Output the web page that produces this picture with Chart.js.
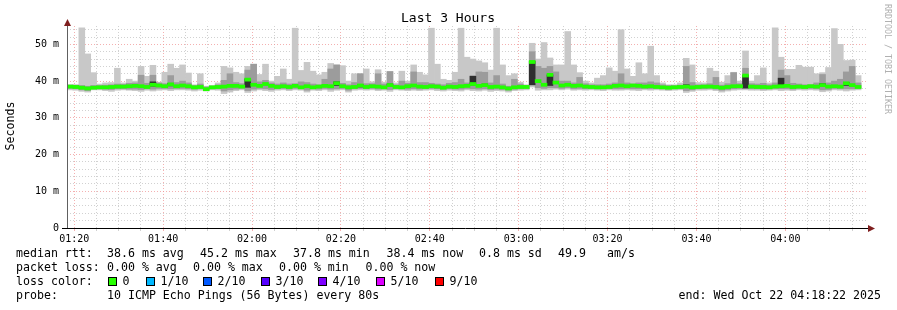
<!DOCTYPE html>
<html>
<head>
<meta charset="utf-8">
<script src="https://cdn.jsdelivr.net/npm/chart.js@4.4.0/dist/chart.umd.min.js"></script>
<style>
  html, body { margin: 0; padding: 0; background: #fff; }
</style>
</head>
<body>
<canvas id="smoke" width="897" height="310"></canvas>
<script>
// one rrd step = 80 s, graph spans the last 3 hours (01:18:22 - 04:18:22)
const stepMin = 80 / 60;
const spanMin = 180;
const firstTickMin = 1 + 38 / 60; // 01:18:22 -> 01:20:00

const timeLabels = ['01:20', '01:40', '02:00', '02:20', '02:40', '03:00', '03:20', '03:40', '04:00'];
const yTickLabels = ['0', '10 m', '20 m', '30 m', '40 m', '50 m'];

// ping rtt per step in ms (smoke = sorted pings, lightest band = min..max)
const rttMin = [
  37.6, 37.5, 37.2, 37.0, 37.6, 37.6, 37.4, 37.2, 37.5, 37.6,
  37.5, 37.4, 37.2, 37.5, 37.3, 37.5, 37.6, 37.4, 37.6, 37.6,
  37.5, 37.3, 37.5, 37.3, 37.6, 37.5, 36.6, 37.0, 37.4, 37.6,
  36.9, 37.3, 37.6, 37.4, 37.2, 37.5, 37.6, 37.4, 37.6, 37.5,
  37.0, 37.5, 37.4, 37.6, 37.2, 37.5, 37.6, 37.0, 37.5, 37.6,
  37.5, 37.6, 37.4, 37.5, 37.2, 37.6, 37.5, 37.4, 37.5, 37.4,
  37.5, 37.6, 37.4, 37.3, 37.5, 37.4, 37.3, 37.6, 37.4, 37.3,
  37.5, 37.2, 37.4, 37.3, 37.0, 37.4, 37.5, 37.6, 38.4, 37.5,
  37.6, 37.6, 37.8, 37.6, 37.8, 37.5, 37.6, 37.5, 37.6, 37.5,
  37.4, 37.6, 37.5, 37.5, 37.6, 37.5, 37.4, 37.6, 37.5, 37.6,
  37.5, 37.4, 37.5, 37.6, 36.9, 37.2, 37.5, 37.5, 37.6, 37.4,
  37.0, 37.3, 37.5, 37.6, 37.6, 37.5, 37.5, 37.4, 37.5, 37.6,
  37.4, 37.5, 37.4, 37.6, 37.5, 37.6, 37.5, 37.1, 37.3, 37.6,
  37.5, 37.3, 37.5, 37.6, null
];
const rttLo2 = [
  38.0, 37.9, 37.6, 37.4, 37.9, 37.9, 37.8, 37.7, 37.9, 37.9,
  37.8, 37.8, 37.7, 37.9, 37.8, 38.0, 38.0, 37.9, 38.0, 38.0,
  37.9, 37.8, 37.9, 37.7, 37.9, 37.9, 37.3, 37.6, 37.8, 38.0,
  37.4, 37.8, 38.0, 37.9, 37.7, 37.9, 38.0, 37.8, 38.0, 37.9,
  37.5, 37.9, 37.8, 38.0, 37.8, 37.9, 38.0, 37.5, 37.9, 38.0,
  37.9, 38.0, 37.8, 37.9, 37.7, 38.0, 37.9, 37.8, 37.9, 37.8,
  37.9, 38.0, 37.9, 37.8, 37.9, 37.8, 37.8, 38.0, 37.9, 37.8,
  37.9, 37.7, 37.8, 37.7, 37.5, 37.8, 37.9, 38.0, 38.9, 38.2,
  38.0, 38.2, 38.2, 38.0, 38.2, 37.9, 38.0, 37.9, 38.0, 37.9,
  37.9, 38.0, 37.9, 37.9, 38.0, 37.9, 37.9, 38.0, 37.9, 38.0,
  37.9, 37.8, 37.9, 37.9, 37.4, 37.6, 37.9, 37.9, 38.0, 37.8,
  37.5, 37.7, 37.9, 38.0, 38.0, 37.9, 37.9, 37.8, 37.9, 38.0,
  37.9, 37.9, 37.8, 38.0, 37.9, 38.0, 37.9, 37.6, 37.7, 38.0,
  37.9, 37.9, 37.9, 38.0, null
];
const rttMedian = [
  38.5, 38.4, 38.2, 38.0, 38.2, 38.3, 38.3, 38.4, 38.5, 38.5,
  38.6, 38.7, 38.6, 38.4, 39.0, 38.8, 38.6, 39.1, 38.6, 38.8,
  38.6, 38.3, 38.4, 37.8, 38.3, 38.4, 38.5, 38.7, 38.7, 38.5,
  40.4, 39.0, 38.7, 39.2, 38.7, 38.4, 38.6, 38.4, 38.7, 38.3,
  38.6, 38.3, 38.5, 38.7, 38.6, 39.4, 38.6, 38.3, 38.4, 38.8,
  38.4, 38.6, 38.5, 38.3, 38.9, 38.4, 38.3, 38.6, 38.8, 38.5,
  38.4, 38.6, 38.5, 38.2, 38.5, 38.4, 38.6, 38.7, 39.2, 38.7,
  38.9, 38.4, 38.5, 38.3, 38.0, 38.3, 38.4, 38.4, 45.2, 40.0,
  39.0, 41.7, 39.6, 38.8, 39.0, 38.7, 38.8, 38.5, 38.4, 38.3,
  38.3, 38.4, 38.7, 38.8, 38.6, 38.8, 38.7, 38.5, 38.6, 38.4,
  38.3, 38.2, 38.3, 38.4, 38.5, 38.3, 38.4, 38.5, 38.5, 38.4,
  38.2, 38.4, 38.6, 38.6, 41.5, 38.5, 38.4, 38.4, 38.3, 38.5,
  38.6, 38.7, 38.4, 38.5, 38.4, 38.6, 38.5, 38.9, 38.5, 38.6,
  38.5, 39.4, 38.9, 38.4, null
];
const rttHi2 = [
  38.9, 38.9, 38.8, 38.6, 38.8, 38.8, 38.9, 39.0, 39.2, 39.1,
  39.4, 39.5, 41.6, 39.4, 41.6, 39.5, 39.3, 41.5, 39.6, 40.0,
  39.5, 38.8, 39.2, 38.4, 38.6, 39.0, 40.2, 42.0, 39.6, 39.3,
  43.0, 44.6, 39.8, 40.2, 39.5, 39.2, 39.5, 39.2, 39.3, 39.8,
  39.6, 39.2, 39.0, 40.5, 43.3, 44.4, 39.4, 39.0, 39.6, 42.0,
  39.3, 39.3, 42.0, 39.2, 42.6, 39.0, 40.0, 39.4, 42.5, 39.6,
  39.6, 39.4, 39.2, 39.0, 39.4, 39.6, 40.5, 39.5, 41.5, 42.5,
  42.4, 39.5, 41.5, 39.2, 38.6, 40.5, 39.2, 38.8, 48.0, 44.0,
  43.5, 44.0, 42.5, 40.0, 40.0, 39.5, 41.0, 39.3, 39.0, 39.0,
  39.0, 39.2, 39.5, 42.0, 39.5, 39.2, 39.5, 39.5, 39.8, 39.5,
  39.0, 38.8, 38.8, 38.9, 44.0, 39.6, 39.0, 39.0, 39.3, 41.0,
  38.9, 39.3, 42.3, 39.3, 43.5, 39.3, 39.2, 39.4, 39.0, 39.5,
  43.0, 41.5, 39.4, 39.2, 39.0, 39.0, 39.5, 41.8, 39.5, 40.0,
  40.5, 42.5, 44.0, 39.5, null
];
const rttMax = [
  39.0, 39.0, 54.5, 47.4, 42.3, 39.2, 39.5, 39.6, 43.5, 39.5,
  40.5, 40.0, 44.0, 41.3, 44.3, 39.7, 42.4, 44.6, 43.5, 44.4,
  42.2, 39.0, 42.0, 38.6, 38.8, 39.5, 44.0, 43.6, 42.4, 42.0,
  44.0, 44.6, 41.8, 44.6, 40.0, 41.3, 43.3, 40.5, 54.4, 42.9,
  45.1, 42.7, 41.7, 42.4, 44.8, 44.4, 44.2, 40.0, 42.0, 42.0,
  43.3, 39.8, 43.1, 39.7, 42.6, 39.5, 42.7, 40.0, 44.4, 42.4,
  41.7, 54.4, 44.6, 40.5, 40.2, 42.4, 54.4, 46.5, 46.0, 45.5,
  45.0, 43.0, 54.4, 44.4, 41.5, 42.0, 39.7, 39.0, 50.3, 46.0,
  50.5, 46.3, 44.4, 44.4, 53.5, 44.4, 42.3, 40.0, 39.5, 40.8,
  41.5, 43.6, 42.7, 54.0, 43.3, 41.3, 45.0, 42.0, 49.5, 41.5,
  39.5, 39.0, 39.0, 39.5, 46.2, 44.4, 39.6, 39.5, 43.5, 42.7,
  39.7, 41.5, 42.4, 40.0, 48.2, 40.0, 41.5, 43.6, 39.5, 54.5,
  46.5, 43.2, 43.2, 44.3, 43.8, 43.8, 42.0, 42.3, 43.7, 54.3,
  50.0, 45.6, 45.7, 41.5, null
];
// darkest smoke band (middle pings), only where it shows
const coreStep = [14, 17, 30, 45, 49, 54, 68, 70, 78, 81, 104, 114, 120, 127, 131];
const coreLo = [38.6, 38.7, 38.3, 38.8, 38.4, 38.5, 38.9, 38.6, 39.0, 38.8, 38.4, 38.1, 38.4, 38.6, 38.8];
const coreHi = [39.8, 39.4, 40.6, 39.8, 39.0, 39.2, 41.3, 39.2, 45.4, 41.7, 39.0, 41.5, 40.8, 39.3, 39.6];

const statsRtt = ['38.6 ms avg', '45.2 ms max', '37.8 ms min', '38.4 ms now', '0.8 ms sd', '49.9', 'am/s'];
const statsLoss = ['0.00 % avg', '0.00 % max', '0.00 % min', '0.00 % now'];
const lossLabels = ['0', '1/10', '2/10', '3/10', '4/10', '5/10', '9/10'];
const lossColors = ['#26ff00', '#00b8ff', '#0059ff', '#5500ff', '#7e00ff', '#dd00ff', '#ff0000'];
const probeText = '10 ICMP Echo Pings (56 Bytes) every 80s';
const endText = 'end: Wed Oct 22 04:18:22 2025';

const MONO = '"DejaVu Sans Mono", "Liberation Mono", monospace';
const medHalf = 0.42; // smokeping draws the median as a thin band, about 3 px tall

//build floating bars, one per rrd step
function smokeBars(lo, hi) {
    let out = [];
    for (var i = 0; i < lo.length; i++) {
        if (lo[i] == null) continue;
        out.push({ x: (i + 0.5) * stepMin, y: [lo[i], hi[i]] });
    }
    return out;
}

let coreBars = coreStep.map((s, k) => ({ x: (s + 0.5) * stepMin, y: [coreLo[k], coreHi[k]] }));

let medBars = [];
rttMedian.forEach((v, i) => { if (v != null) medBars.push({ x: (i + 0.5) * stepMin, y: [v - medHalf, v + medHalf] }); });

const MAJOR = 'rgba(240, 150, 150, 0.75)';
const MINOR = 'rgba(190, 190, 190, 0.7)';

//everything rrdtool draws around the graph: axes, arrows and the text block
const frame = {
    id: 'frame',
    afterDraw(chart) {
        const c = chart.ctx;
        const a = chart.chartArea;
        c.save();
        c.lineWidth = 1;
        c.strokeStyle = '#606060';
        c.beginPath(); c.moveTo(a.left + 0.5, a.bottom); c.lineTo(a.left + 0.5, a.top - 4); c.stroke();
        c.strokeStyle = '#000';
        c.beginPath(); c.moveTo(a.left - 5, a.bottom + 0.5); c.lineTo(a.right + 2, a.bottom + 0.5); c.stroke();

        c.fillStyle = '#7f1f1f';
        c.beginPath(); c.moveTo(a.left + 0.5, a.top - 7); c.lineTo(a.left - 3, a.top); c.lineTo(a.left + 4, a.top); c.fill();
        c.beginPath(); c.moveTo(a.right + 8, a.bottom + 0.5); c.lineTo(a.right + 1, a.bottom - 3); c.lineTo(a.right + 1, a.bottom + 4); c.fill();

        c.fillStyle = '#000';
        c.textBaseline = 'middle';
        c.font = '13px ' + MONO;
        c.textAlign = 'center';
        c.fillText('Last 3 Hours', 448, 19);

        c.font = '11.6px ' + MONO;
        c.save(); c.translate(11, 126); c.rotate(-Math.PI / 2); c.fillText('Seconds', 0, 0); c.restore();

        c.save();
        c.fillStyle = '#b0b0b0';
        c.font = '8.3px ' + MONO;
        c.translate(887, 59); c.rotate(Math.PI / 2); c.fillText('RRDTOOL / TOBI OETIKER', 0, 0);
        c.restore();

        c.textAlign = 'left';
        c.fillText('median rtt:', 16, 254);
        [107, 200, 293, 386.5, 479, 558, 607].forEach((x, k) => c.fillText(statsRtt[k], x, 254));
        c.fillText('packet loss:', 16, 268);
        [107, 193, 279, 365.5].forEach((x, k) => c.fillText(statsLoss[k], x, 268));
        c.fillText('loss color:', 16, 282);
        [108, 146, 203, 261, 318, 376, 435].forEach((x, k) => {
            c.fillStyle = lossColors[k];
            c.fillRect(x, 277, 9, 9);
            c.strokeStyle = '#000';
            c.strokeRect(x + 0.5, 277.5, 8, 8);
            c.fillStyle = '#000';
            c.fillText(lossLabels[k], x + 14.5, 282);
        });
        c.fillText('probe:', 16, 296);
        c.fillText(probeText, 107, 296);
        c.textAlign = 'right';
        c.fillText(endText, 881, 296);
        c.restore();
    }
};

new Chart(document.getElementById('smoke'), {
    type: 'bar',
    data: {
        datasets: [
            { label: 'median rtt', data: medBars, backgroundColor: '#22ff00', order: 0 },
            { label: 'core', data: coreBars, backgroundColor: '#2e2e2e', order: 1 },
            { label: 'mid', data: smokeBars(rttLo2, rttHi2), backgroundColor: '#9c9c9c', order: 2 },
            { label: 'smoke', data: smokeBars(rttMin, rttMax), backgroundColor: '#c8c8c8', order: 3 }
        ]
    },
    options: {
        responsive: false,
        animation: false,
        devicePixelRatio: 1,
        layout: { padding: { left: 0, right: 30, top: 26, bottom: 0 } },
        datasets: { bar: { grouped: false, barPercentage: 1, categoryPercentage: 1, borderWidth: 0 } },
        plugins: { legend: { display: false }, tooltip: { enabled: false } },
        scales: {
            x: {
                type: 'linear', min: 0, max: spanMin, offset: false,
                afterBuildTicks: s => {
                    let t = [];
                    for (var k = 0; firstTickMin + 5 * k < spanMin; k++) t.push({ value: firstTickMin + 5 * k });
                    s.ticks = t;
                },
                afterFit: s => { s.height = 82; },
                grid: {
                    offset: false,
                    color: ctx => ctx.index % 4 === 0 ? MAJOR : MINOR,
                    tickColor: ctx => ctx.index % 4 === 0 ? MAJOR : MINOR,
                    drawTicks: true, tickLength: 3
                },
                border: { display: false, dash: [1, 2] },
                ticks: {
                    autoSkip: false, maxRotation: 0, padding: 2, color: '#000',
                    font: { family: MONO, size: 10 },
                    callback: (v, i) => i % 4 === 0 ? timeLabels[i / 4] : ''
                }
            },
            y: {
                min: 0, max: 55,
                afterBuildTicks: s => {
                    let t = [];
                    for (var v = 0; v <= 54; v += 2) t.push({ value: v });
                    s.ticks = t;
                },
                afterFit: s => { s.width = 67; },
                grid: {
                    color: ctx => ctx.tick.value === 0 ? 'rgba(0,0,0,0)' : (ctx.tick.value % 10 === 0 ? MAJOR : MINOR),
                    drawTicks: false
                },
                border: { display: false, dash: [1, 2] },
                ticks: {
                    autoSkip: false, padding: 8, color: '#000',
                    font: { family: MONO, size: 10 },
                    callback: v => v % 10 === 0 ? yTickLabels[v / 10] : ''
                }
            }
        }
    },
    plugins: [frame]
});
</script>
</body>
</html>
